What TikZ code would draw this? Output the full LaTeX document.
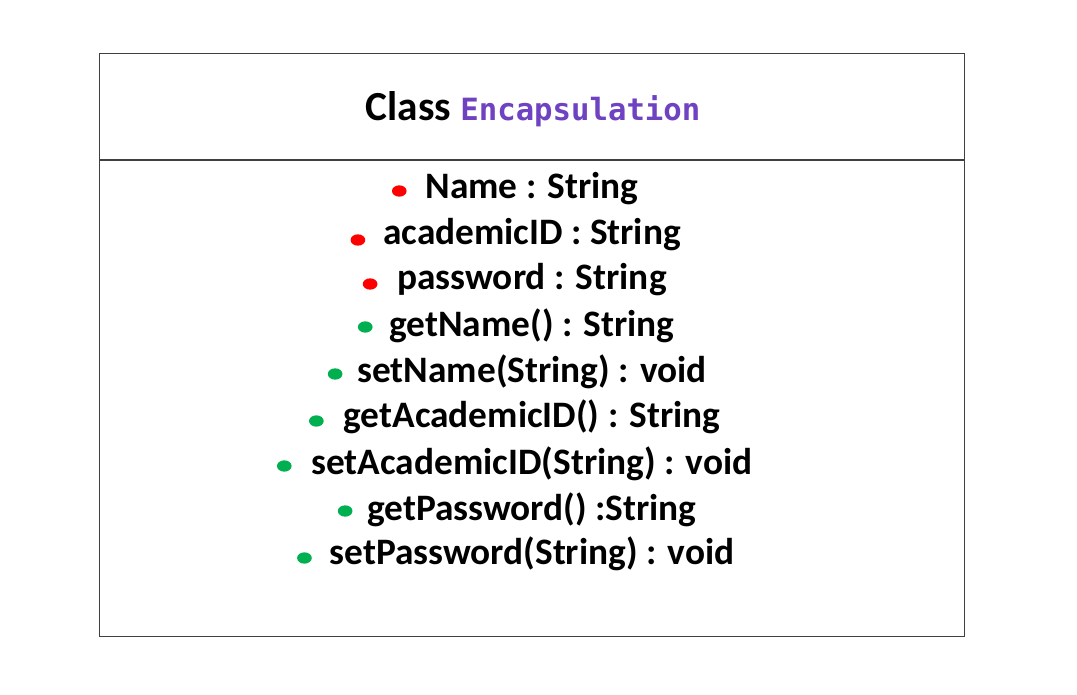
\documentclass[tikz,border=0pt]{standalone}
\usetikzlibrary{shapes.geometric}
\usepackage{fontspec}
\setmainfont{Carlito}
\newfontfamily\codefont{DejaVu Sans Mono}
\definecolor{attrred}{RGB}{255,0,0}
\definecolor{methgreen}{RGB}{0,176,80}
\definecolor{classpurple}{RGB}{111,66,193}
\begin{document}
\begin{tikzpicture}[x=0.75pt,y=-0.75pt,
  member/.style={inner sep=0pt,font=\fontsize{28}{33}\selectfont\bfseries,anchor=center},
  reddot/.style={ellipse,fill=attrred,minimum width=11pt,minimum height=8.5pt,inner sep=0pt},
  greendot/.style={ellipse,fill=methgreen,minimum width=11pt,minimum height=8.5pt,inner sep=0pt},
  frame/.style={draw=black!75,line width=0.8pt}]
\useasboundingbox (0,0) rectangle (1077,695);
\fill[white] (0,0) rectangle (1077,695);
\node[frame,minimum width=648.75pt,minimum height=437.25pt,inner sep=0pt,anchor=north west] (box) at (99,53) {};
\coordinate (divL) at (99,160);
\coordinate (divR) at (964,160);
\draw[frame] (divL) -- (divR);
\node[inner sep=0pt] (title) at (533,109) {\fontsize{31}{36}\selectfont\bfseries Class \codefont\fontsize{23}{28}\selectfont\color{classpurple}Encapsulation};
\node[member] (m1) at (532,189) {Name : String};
\node[member] (m2) at (532,235) {academicID : String};
\node[member] (m3) at (532,280) {password : String};
\node[member] (m4) at (532,326) {getName() : String};
\node[member] (m5) at (532,372) {setName(String) : void};
\node[member] (m6) at (532,417) {getAcademicID() : String};
\node[member] (m7) at (532,464) {setAcademicID(String) : void};
\node[member] (m8) at (532,510) {getPassword() :String};
\node[member] (m9) at (532,554) {setPassword(String) : void};
\node[reddot] (d1) at ([xshift=-19.5pt,yshift=-1.5pt]m1.west) {};
\node[reddot] (d2) at ([xshift=-18.75pt,yshift=-3.75pt]m2.west) {};
\node[reddot] (d3) at ([xshift=-20.25pt,yshift=-3pt]m3.west) {};
\node[greendot] (d4) at ([xshift=-18pt,yshift=-0.75pt]m4.west) {};
\node[greendot] (d5) at ([xshift=-16.5pt,yshift=-1.5pt]m5.west) {};
\node[greendot] (d6) at ([xshift=-20.25pt,yshift=-3pt]m6.west) {};
\node[greendot] (d7) at ([xshift=-20.25pt,yshift=-1.5pt]m7.west) {};
\node[greendot] (d8) at ([xshift=-16.5pt,yshift=-0.75pt]m8.west) {};
\node[greendot] (d9) at ([xshift=-18.75pt,yshift=-3pt]m9.west) {};
\end{tikzpicture}
\end{document}
